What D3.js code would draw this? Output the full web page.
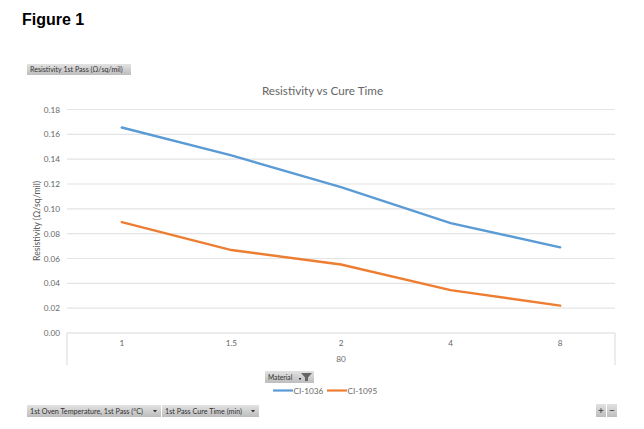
<!DOCTYPE html>
<html><head><meta charset="utf-8">
<script src="https://cdn.jsdelivr.net/npm/d3@7"></script>
<style>
html,body{margin:0;padding:0;background:#fff}
svg{display:block}
text{font-family:"Lato","Open Sans",sans-serif}
</style></head><body>
<svg id="c" width="644" height="429"></svg>
<script>
const cureTimes = ["1","1.5","2","4","8"];
const ci1036 = [0.1655,0.1430,0.1175,0.0885,0.0690];
const ci1095 = [0.0893,0.0668,0.0552,0.0345,0.0220];
const yTicks = [0,0.02,0.04,0.06,0.08,0.10,0.12,0.14,0.16,0.18];
const temperature = "80";
const seriesNames = ["CI-1036","CI-1095"];
const seriesColors = ["#5b9bd5","#ed7d31"];
const titleText = "Resistivity vs Cure Time";
const figureLabel = "Figure 1";
const yAxisLabel = "Resistivity (Ω/sq/mil)";
const valueField = "Resistivity 1st Pass (Ω/sq/mil)";
const filterField = "Material";
const axisFields = ["1st Oven Temperature, 1st Pass (°C)","1st Pass Cure Time (min)"];

const svg = d3.select("#c");
const M = {l:67,r:615,t:109.5,b:333};
const x = d3.scaleBand().domain(cureTimes).range([M.l,M.r]);
const y = d3.scaleLinear().domain([0,0.18]).range([M.b,M.t]);
const defs = svg.append("defs");
const g = defs.append("linearGradient").attr("id","btn").attr("x1",0).attr("x2",0).attr("y1",0).attr("y2",1);
g.append("stop").attr("offset",0).attr("stop-color","#e2e2e2");
g.append("stop").attr("offset",1).attr("stop-color","#bdbdbd");

svg.append("text").attr("x",22).attr("y",25).attr("font-size",16).attr("font-weight",700)
  .attr("fill","#000").style("font-family","'Liberation Sans',Arial,sans-serif").text(figureLabel);

function button(bx,by,w,h,label,fs){
  svg.append("rect").attr("x",bx).attr("y",by).attr("width",w).attr("height",h).attr("fill","url(#btn)");
  svg.append("text").attr("x",bx+3).attr("y",by+h/2+2.6).attr("font-size",fs||7.2).attr("fill","#333").text(label);
}
button(27,64,104,11,valueField,7.1);
button(27,405,134,12,axisFields[0],7.2);
button(162,405,97,12,axisFields[1],7.2);
button(265,371,49,12,filterField,6.7);

// dropdown arrows
[[155,411],[253,411]].forEach(([a,b])=>svg.append("path")
  .attr("d",d3.line()([[a-2,b-1],[a+2,b-1],[a,b+1.5]])).attr("fill","#333"));
// filter icon
svg.append("path").attr("d",d3.line()([[301,373],[312,373],[308,377.5],[308,381],[305,381],[305,377.5]])).attr("fill","#666");
svg.append("rect").attr("x",299).attr("y",378).attr("width",2).attr("height",1.5).attr("fill","#333");

svg.append("text").attr("x",322.5).attr("y",95).attr("text-anchor","middle").attr("font-size",11.7)
  .attr("fill","#666").text(titleText);

// grid
svg.append("g").selectAll("line").data(yTicks).join("line")
  .attr("x1",M.l).attr("x2",M.r).attr("y1",d=>y(d)).attr("y2",d=>y(d))
  .attr("stroke",d=>d===0?"#d9d9d9":"#e4e4e4").attr("stroke-width",1.2);
// axis y labels
svg.append("g").selectAll("text").data(yTicks).join("text")
  .attr("x",60).attr("y",d=>y(d)+3).attr("text-anchor","end").attr("font-size",8.2)
  .attr("fill","#666").text(d=>d3.format(".2f")(d));
svg.append("text").attr("transform",`translate(40,221) rotate(-90)`).attr("text-anchor","middle")
  .attr("font-size",8.7).attr("fill","#595959").text(yAxisLabel);

// category axis frame
[M.l,M.r].forEach(v=>svg.append("line").attr("x1",v).attr("x2",v).attr("y1",M.b).attr("y2",365)
  .attr("stroke","#d9d9d9").attr("stroke-width",1));
svg.append("g").selectAll("text").data(cureTimes).join("text")
  .attr("x",d=>x(d)+x.bandwidth()/2).attr("y",346).attr("text-anchor","middle").attr("font-size",8.2)
  .attr("fill","#666").text(d=>d);
svg.append("text").attr("x",(M.l+M.r)/2).attr("y",362).attr("text-anchor","middle").attr("font-size",8.2)
  .attr("fill","#666").text(temperature);

// series
const line = d3.line().x((d,i)=>x(cureTimes[i])+x.bandwidth()/2).y(d=>y(d));
[ci1036,ci1095].forEach((s,i)=>svg.append("path").datum(s).attr("d",line).attr("fill","none")
  .attr("stroke",seriesColors[i]).attr("stroke-width",2.4).attr("stroke-linecap","round"));

// legend
const legendX = [273,327];
seriesNames.forEach((n,i)=>{
  svg.append("line").attr("x1",legendX[i]).attr("x2",legendX[i]+20).attr("y1",390.5).attr("y2",390.5)
    .attr("stroke",seriesColors[i]).attr("stroke-width",2.2);
  svg.append("text").attr("x",legendX[i]+20.5).attr("y",393.5).attr("font-size",8.2).attr("fill","#666").text(n);
});

// + / - buttons
button(596,404,10,13,"",7); button(607,404,10,13,"",7);
svg.append("text").attr("x",601).attr("y",414).attr("text-anchor","middle").attr("font-size",10).attr("font-weight",700).attr("fill","#555").text("+");
svg.append("text").attr("x",612).attr("y",414).attr("text-anchor","middle").attr("font-size",10).attr("font-weight",700).attr("fill","#555").text("−");
</script></body></html>
